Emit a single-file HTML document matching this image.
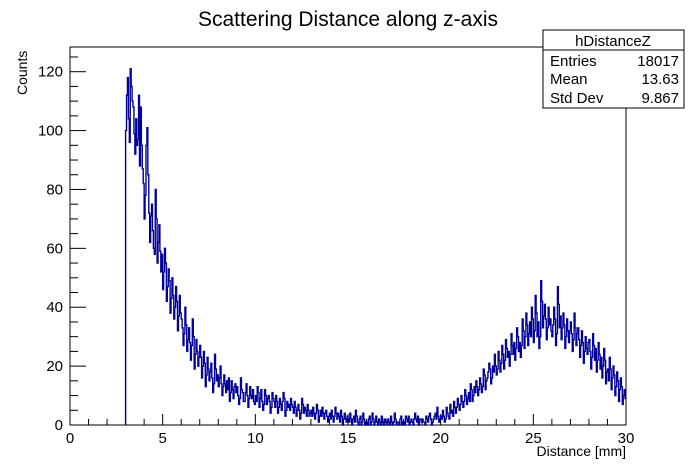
<!DOCTYPE html>
<html><head><meta charset="utf-8"><style>
body{margin:0;background:#fff;}
svg{display:block;font-family:"Liberation Sans",Arial,sans-serif;}
</style></head><body>
<svg id="chart" width="696" height="472">
<rect width="696" height="472" fill="#fff"/>
<text x="348" y="26" font-size="21" text-anchor="middle">Scattering Distance along z-axis</text>
<rect x="70" y="47" width="556" height="378" fill="none" stroke="#000" stroke-width="1"/>
<g id="axes"></g>
<path id="hist" fill="none" stroke="#000099" stroke-width="1.4"/>
<text x="626" y="456" font-size="14" text-anchor="end">Distance [mm]</text>
<text transform="translate(27,95) rotate(-90)" font-size="14" text-anchor="start">Counts</text>
<g>
<rect x="543" y="30" width="141" height="78" fill="#fff" stroke="#000"/>
<line x1="543" y1="50" x2="684" y2="50" stroke="#000"/>
<text x="613" y="46" font-size="15" text-anchor="middle">hDistanceZ</text>
<text x="550" y="66" font-size="15">Entries</text>
<text x="679" y="66" font-size="15" text-anchor="end">18017</text>
<text x="550" y="84" font-size="15">Mean</text>
<text x="679" y="84" font-size="15" text-anchor="end">13.63</text>
<text x="550" y="103" font-size="15">Std Dev</text>
<text x="679" y="103" font-size="15" text-anchor="end">9.867</text>
</g>
</svg>
<script>
const binStart = 3.0;
const binWidth = 0.05;
const counts = [
100,112,118,104,96,121,115,110,108,99,92,104,95,97,112,88,108,95,87,82,
70,78,95,101,85,72,62,71,75,66,60,58,80,70,55,62,68,59,52,58,
46,52,60,55,42,47,53,49,38,43,50,44,36,40,47,42,32,37,44,38,
36,33,27,31,40,34,25,29,33,28,22,27,36,30,19,24,29,25,20,23,
27,23,16,20,25,21,13,17,23,19,15,18,21,16,11,14,24,19,15,17,
13,16,20,14,10,13,17,14,11,15,12,16,8,11,15,12,9,13,14,11,
13,10,7,9,16,12,11,8,8,11,14,10,6,9,13,10,9,12,8,7,
10,8,13,11,6,9,12,8,5,7,12,10,7,9,10,8,4,6,11,9,
8,6,10,8,4,6,9,7,5,8,11,9,3,5,8,6,7,5,9,7,
6,4,8,6,3,5,7,5,2,4,9,7,4,6,5,3,7,5,3,4,
5,3,6,4,2,4,7,5,1,3,5,3,6,4,2,4,5,3,1,3,
4,2,5,3,1,3,6,4,2,4,3,1,5,3,0,2,4,2,1,3,
2,1,4,2,0,2,3,1,5,3,1,0,2,3,0,1,4,2,0,1,
1,0,2,3,0,1,4,2,0,1,3,1,0,2,1,0,3,1,0,2,
2,1,0,2,1,0,3,1,0,1,4,2,0,1,1,0,2,3,0,1,
1,0,3,2,1,3,0,1,2,1,0,2,4,2,1,3,0,2,2,1,
2,1,1,0,3,2,1,3,4,2,0,1,2,3,4,2,6,3,1,2,
3,2,5,3,1,2,6,4,3,2,7,4,5,3,8,6,4,6,9,7,
5,7,10,8,6,8,12,10,7,9,11,8,14,12,8,10,13,11,15,13,
10,12,16,14,11,13,19,17,12,15,16,18,21,19,14,16,20,18,24,20,
17,19,25,22,18,21,27,24,19,22,29,26,23,25,20,24,31,27,24,28,
22,26,33,30,25,28,23,27,36,32,26,30,38,34,27,31,35,30,40,36,
28,32,44,38,30,35,26,30,49,42,33,37,41,36,29,33,40,34,36,32,
30,34,40,36,27,31,47,41,33,37,29,33,38,34,26,30,36,32,28,32,
35,31,25,29,38,33,27,31,33,29,23,27,32,28,21,25,30,26,24,28,
29,25,19,23,31,27,22,26,18,22,28,24,19,23,16,20,26,22,14,18,
19,15,23,19,12,16,20,17,10,13,18,15,8,12,16,13,7,10,12,9
];
const xTicks = [0,5,10,15,20,25,30];
const yTicks = [0,20,40,60,80,100,120];

const X0=70,X1=626,Y0=425,YT=71.7;
function sx(v){return X0+(v/30)*(X1-X0);}
function sy(v){return Y0-(v/120)*(Y0-YT);}

const NS="http://www.w3.org/2000/svg";
const axes=document.getElementById('axes');
function line(x1,y1,x2,y2,name){
  const l=document.createElementNS(NS,'line');
  l.setAttribute('x1',x1);l.setAttribute('y1',y1);l.setAttribute('x2',x2);l.setAttribute('y2',y2);
  l.setAttribute('stroke','#000');l.setAttribute('stroke-width','1');
  
  
  axes.appendChild(l);
}
function text(x,y,s,anchor,name){
  const t=document.createElementNS(NS,'text');
  t.setAttribute('x',x);t.setAttribute('y',y);t.setAttribute('font-size','15');
  t.setAttribute('text-anchor',anchor);t.textContent=s;
  
  
  axes.appendChild(t);
}
for(let v=0;v<=30;v+=1){
  const major=v%5===0;
  line(sx(v),Y0,sx(v),Y0-(major?11:6),'x-tick');
}
xTicks.forEach(v=>text(sx(v),443,String(v),'middle','x-tick-label'));
for(let v=0;v<=125;v+=5){
  if(sy(v)<47)break;
  const major=v%20===0;
  line(X0,sy(v),X0+(major?16:8),sy(v),'y-tick');
}
yTicks.forEach(v=>text(X0-7,sy(v)+5,String(v),'end','y-tick-label'));

let d='M'+sx(binStart).toFixed(2)+','+sy(0).toFixed(2);
counts.forEach((c,i)=>{
  const a=binStart+i*binWidth, b=a+binWidth;
  d+=' L'+sx(a).toFixed(2)+','+sy(c).toFixed(2)+' L'+sx(b).toFixed(2)+','+sy(c).toFixed(2);
});
document.getElementById('hist').setAttribute('d',d);
</script>
</body></html>
